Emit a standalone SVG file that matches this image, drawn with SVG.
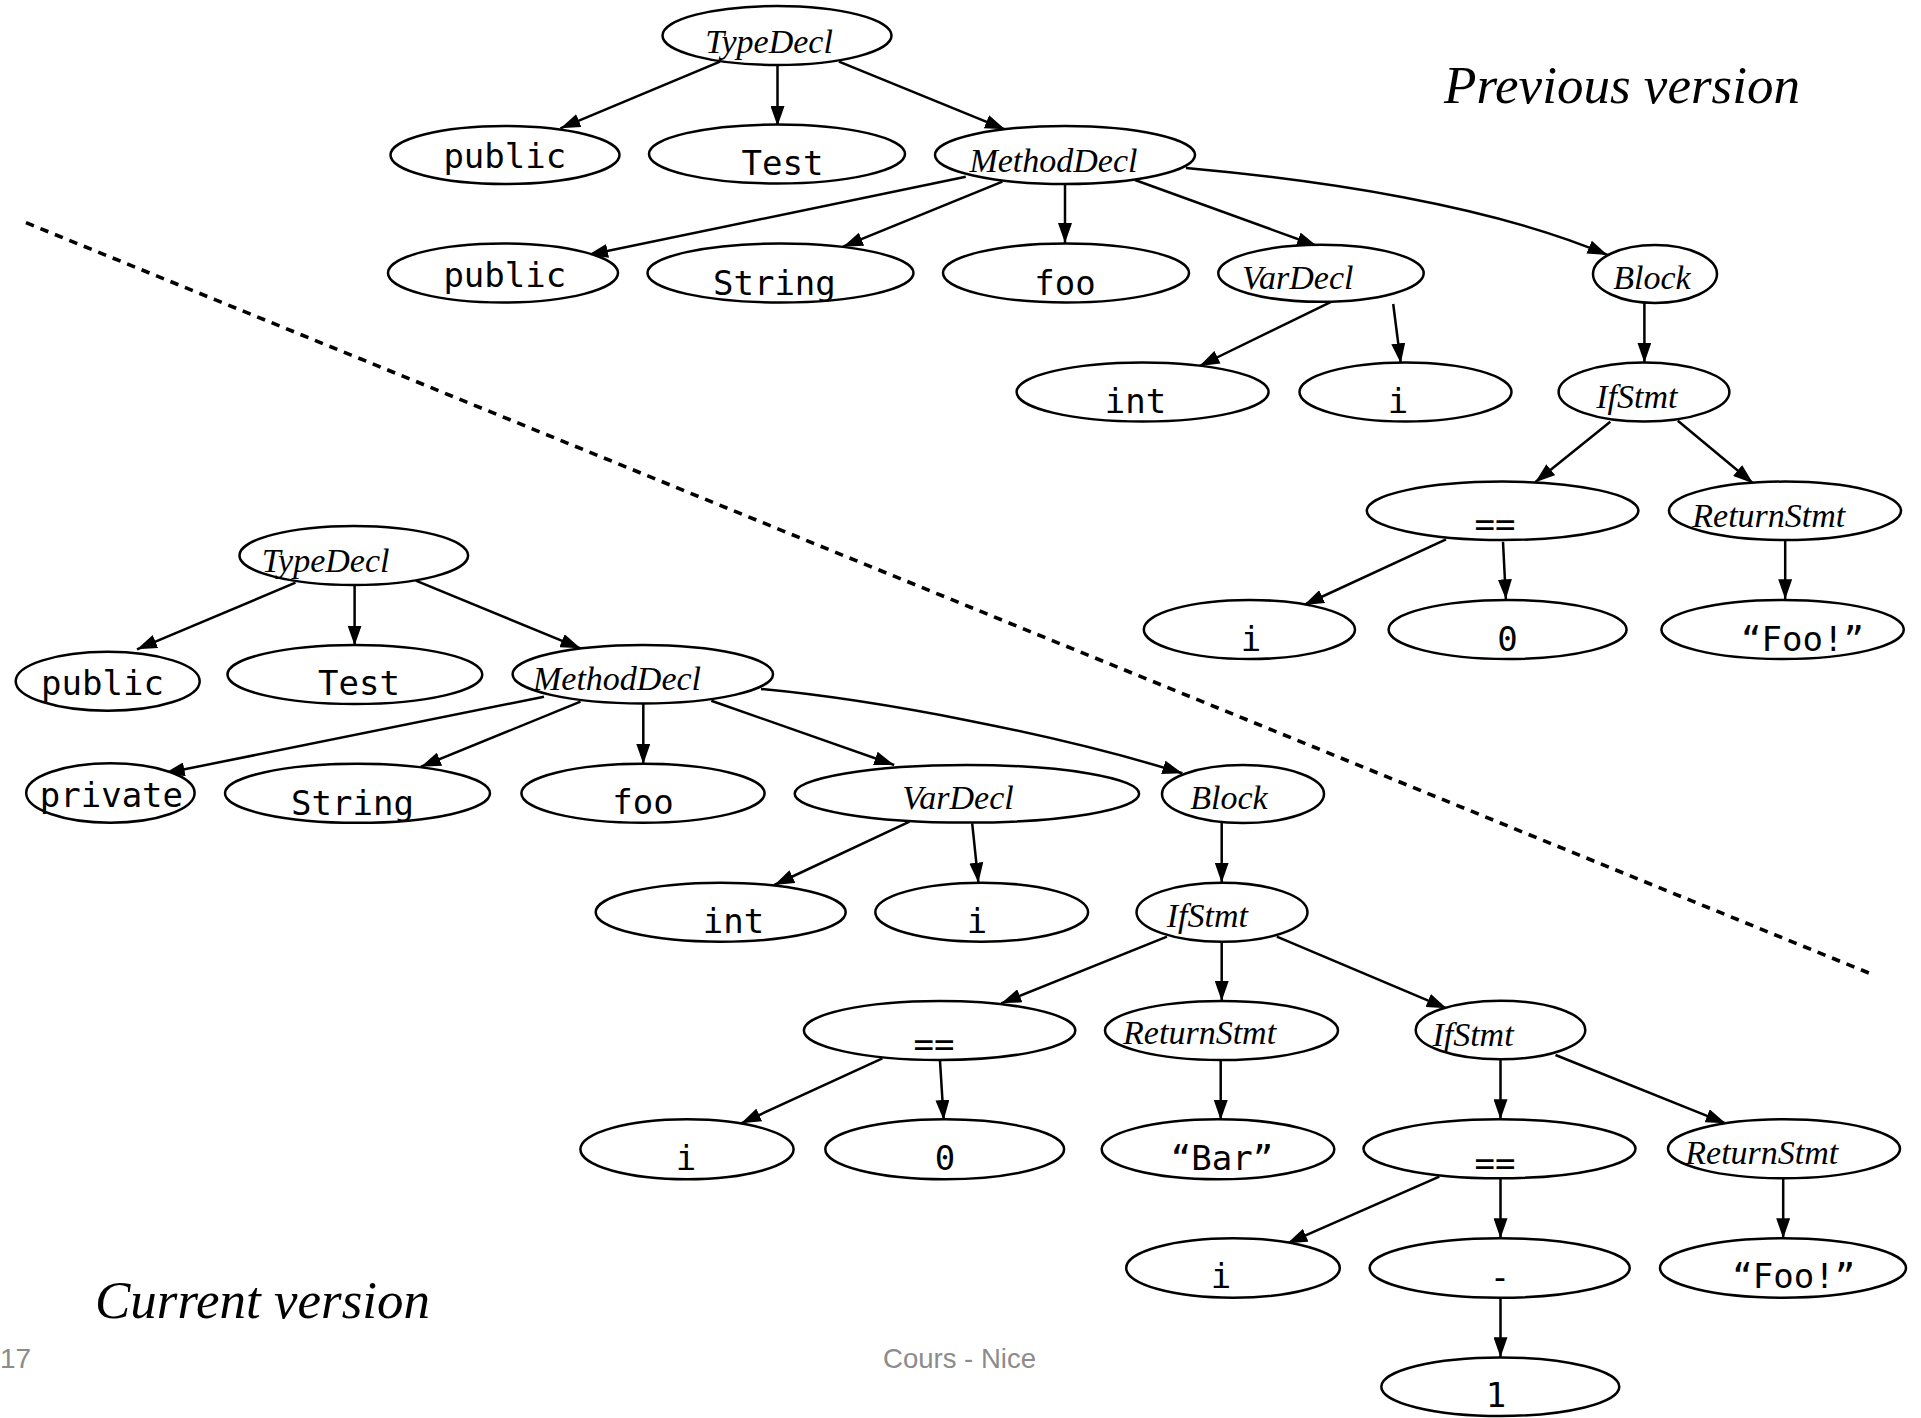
<svg xmlns="http://www.w3.org/2000/svg" width="1921" height="1418" viewBox="0 0 1921 1418">
  <style>
    .node ellipse { fill: #ffffff; stroke: #000000; stroke-width: 2.5; }
    .it { font-family: "Liberation Serif", "Times New Roman", serif; font-style: italic; font-size: 34px; fill: #000000; text-anchor: middle; }
    .mono { font-family: "DejaVu Sans Mono", "Liberation Mono", monospace; font-size: 34px; fill: #000000; text-anchor: middle; }
    .edge { fill: none; stroke: #000000; stroke-width: 2.5; marker-end: url(#arrow); }
    .caption { font-family: "Liberation Serif", "Times New Roman", serif; font-style: italic; font-size: 53px; fill: #000000; }
    .footer { font-family: "Liberation Sans", Arial, sans-serif; font-size: 28px; fill: #8c8c8c; }
    .divider { fill: none; stroke: #000000; stroke-width: 3.6; stroke-dasharray: 8.5 7.1; }
  </style>
  <defs>
    <marker id="arrow" markerUnits="userSpaceOnUse" markerWidth="20" markerHeight="14" refX="20" refY="7" orient="auto">
      <path d="M0,0 L20,7 L0,14 Z" fill="#000000"/>
    </marker>
  </defs>

  <rect x="0" y="0" width="1921" height="1418" fill="#ffffff"/>

  <!-- separator between the two versions -->
  <line class="divider" x1="26" y1="222.7" x2="1869.6" y2="973.3"/>

  <!-- captions and footer -->
  <text class="caption" x="1444" y="103.3" textLength="356" lengthAdjust="spacingAndGlyphs">Previous version</text>
  <text class="caption" x="95" y="1318.3" textLength="335" lengthAdjust="spacingAndGlyphs">Current version</text>
  <text class="footer" x="0" y="1368.3">17</text>
  <text class="footer" x="883" y="1368.3" textLength="153" lengthAdjust="spacingAndGlyphs">Cours - Nice</text>

  <!-- edges -->
  <g id="connectors">
    <!-- previous version -->
    <line class="edge" x1="720" y1="61.7" x2="560.4" y2="128.3"/>
    <line class="edge" x1="777.5" y1="65" x2="777.5" y2="126"/>
    <line class="edge" x1="839" y1="61.7" x2="1005" y2="129.3"/>
    <line class="edge" x1="965.8" y1="176.7" x2="588" y2="255"/>
    <line class="edge" x1="1002.4" y1="181.7" x2="843" y2="246.7"/>
    <line class="edge" x1="1065" y1="184" x2="1065" y2="243"/>
    <line class="edge" x1="1135" y1="180" x2="1317" y2="246"/>
    <path class="edge" d="M1186,168 C1320,180 1490,205 1607.5,255"/>
    <line class="edge" x1="1331.6" y1="301.7" x2="1199.5" y2="366"/>
    <line class="edge" x1="1393.2" y1="304" x2="1400.8" y2="363.3"/>
    <line class="edge" x1="1644.4" y1="302.7" x2="1644.4" y2="362.7"/>
    <line class="edge" x1="1610.3" y1="421.7" x2="1535.2" y2="482.3"/>
    <line class="edge" x1="1677.8" y1="420.7" x2="1753" y2="483.3"/>
    <line class="edge" x1="1446" y1="539.3" x2="1304" y2="605"/>
    <line class="edge" x1="1503" y1="541.7" x2="1505.9" y2="599.3"/>
    <line class="edge" x1="1785.2" y1="540" x2="1785.2" y2="599.3"/>
    <!-- current version -->
    <line class="edge" x1="295.5" y1="582.7" x2="137" y2="649.3"/>
    <line class="edge" x1="354.6" y1="585" x2="354.6" y2="645.5"/>
    <line class="edge" x1="415.8" y1="580.7" x2="580.5" y2="648.3"/>
    <line class="edge" x1="544" y1="696.7" x2="164.7" y2="773.3"/>
    <line class="edge" x1="580.5" y1="701.7" x2="421" y2="766.7"/>
    <line class="edge" x1="643.3" y1="703.3" x2="643.3" y2="764"/>
    <line class="edge" x1="711.3" y1="700.7" x2="894.2" y2="765"/>
    <path class="edge" d="M761,689 C880,700 1060,735 1182.4,773.3"/>
    <line class="edge" x1="909.5" y1="821.7" x2="774.3" y2="885"/>
    <line class="edge" x1="972.2" y1="823.3" x2="978.4" y2="882.7"/>
    <line class="edge" x1="1221.7" y1="822.7" x2="1221.7" y2="882.7"/>
    <line class="edge" x1="1167" y1="936.7" x2="1001.3" y2="1003.3"/>
    <line class="edge" x1="1221.7" y1="941.7" x2="1221.7" y2="1001"/>
    <line class="edge" x1="1276.8" y1="936.7" x2="1446.6" y2="1008.3"/>
    <line class="edge" x1="882.4" y1="1058.3" x2="741.1" y2="1123.3"/>
    <line class="edge" x1="940" y1="1060.7" x2="943.7" y2="1120"/>
    <line class="edge" x1="1220.7" y1="1060" x2="1220.7" y2="1120"/>
    <line class="edge" x1="1500.5" y1="1059.3" x2="1500.5" y2="1119.3"/>
    <line class="edge" x1="1555.5" y1="1055" x2="1725.7" y2="1123.3"/>
    <line class="edge" x1="1439.3" y1="1176.7" x2="1287.4" y2="1243.3"/>
    <line class="edge" x1="1500.5" y1="1178.3" x2="1500.5" y2="1238.3"/>
    <line class="edge" x1="1783.2" y1="1178.3" x2="1783.2" y2="1238.3"/>
    <line class="edge" x1="1500.5" y1="1297.7" x2="1500.5" y2="1357.3"/>
  </g>

  <!-- previous version nodes -->
  <g id="p-typedecl" class="node"><ellipse cx="777" cy="35.5" rx="114.5" ry="29.5"/><text class="it" x="769" y="53.3">TypeDecl</text></g>
  <g id="p-public" class="node"><ellipse cx="505" cy="155" rx="114.5" ry="29"/><text class="mono" x="504.8" y="168.3">public</text></g>
  <g id="p-test" class="node"><ellipse cx="777" cy="154" rx="128" ry="29.5"/><text class="mono" x="782.5" y="175">Test</text></g>
  <g id="p-methoddecl" class="node"><ellipse cx="1065" cy="155" rx="130" ry="29"/><text class="it" x="1053.4" y="171.7">MethodDecl</text></g>
  <g id="p-modifier" class="node"><ellipse cx="503" cy="273" rx="115" ry="29.5"/><text class="mono" x="504.8" y="286.7">public</text></g>
  <g id="p-string" class="node"><ellipse cx="780.5" cy="273" rx="133" ry="29.5"/><text class="mono" x="774.4" y="295">String</text></g>
  <g id="p-foo" class="node"><ellipse cx="1066" cy="273" rx="123" ry="29.5"/><text class="mono" x="1065" y="295">foo</text></g>
  <g id="p-vardecl" class="node"><ellipse cx="1321" cy="273.3" rx="102.7" ry="28.5"/><text class="it" x="1297.8" y="289.3">VarDecl</text></g>
  <g id="p-block" class="node"><ellipse cx="1655" cy="274" rx="62" ry="29"/><text class="it" x="1652" y="289">Block</text></g>
  <g id="p-int" class="node"><ellipse cx="1142.6" cy="392" rx="126" ry="29.5"/><text class="mono" x="1135.5" y="412.7">int</text></g>
  <g id="p-var-i" class="node"><ellipse cx="1405.5" cy="392" rx="106" ry="29.5"/><text class="mono" x="1398" y="412.7">i</text></g>
  <g id="p-ifstmt" class="node"><ellipse cx="1644" cy="392" rx="85.4" ry="29.5"/><text class="it" x="1636.8" y="408.3">IfStmt</text></g>
  <g id="p-eq" class="node"><ellipse cx="1502.6" cy="510.8" rx="135.8" ry="29.2"/><text class="mono" x="1495" y="536">==</text></g>
  <g id="p-return" class="node"><ellipse cx="1785" cy="510.8" rx="116" ry="29.2"/><text class="it" x="1768.8" y="526.7">ReturnStmt</text></g>
  <g id="p-eq-i" class="node"><ellipse cx="1249.4" cy="629.5" rx="105.6" ry="29.5"/><text class="mono" x="1251" y="650.7">i</text></g>
  <g id="p-eq-0" class="node"><ellipse cx="1507.6" cy="629.5" rx="119" ry="29.5"/><text class="mono" x="1507.6" y="650.7">0</text></g>
  <g id="p-foo-str" class="node"><ellipse cx="1782.6" cy="629.5" rx="121.2" ry="29.5"/><text class="mono" x="1802.5" y="650.7">“Foo!”</text></g>

  <!-- current version nodes -->
  <g id="c-typedecl" class="node"><ellipse cx="353.8" cy="555.5" rx="114.3" ry="29.5"/><text class="it" x="325.6" y="571.7">TypeDecl</text></g>
  <g id="c-public" class="node"><ellipse cx="107.7" cy="681.2" rx="92" ry="29.5"/><text class="mono" x="102.5" y="695">public</text></g>
  <g id="c-test" class="node"><ellipse cx="354.9" cy="674.5" rx="127.4" ry="29.5"/><text class="mono" x="359" y="695">Test</text></g>
  <g id="c-methoddecl" class="node"><ellipse cx="642.8" cy="674.2" rx="130.2" ry="29.2"/><text class="it" x="617" y="690">MethodDecl</text></g>
  <g id="c-private" class="node"><ellipse cx="110.4" cy="793" rx="84.2" ry="29.7"/><text class="mono" x="111.4" y="806.7">private</text></g>
  <g id="c-string" class="node"><ellipse cx="357.5" cy="793.3" rx="132.5" ry="29.5"/><text class="mono" x="352.5" y="815">String</text></g>
  <g id="c-foo" class="node"><ellipse cx="643" cy="793.3" rx="121.6" ry="29.5"/><text class="mono" x="643" y="814">foo</text></g>
  <g id="c-vardecl" class="node"><ellipse cx="966.9" cy="793.8" rx="172.2" ry="28.8"/><text class="it" x="958" y="809.3">VarDecl</text></g>
  <g id="c-block" class="node"><ellipse cx="1243" cy="794" rx="81" ry="29"/><text class="it" x="1229" y="809.3">Block</text></g>
  <g id="c-int" class="node"><ellipse cx="720.7" cy="912.2" rx="125" ry="29.5"/><text class="mono" x="733.5" y="933.3">int</text></g>
  <g id="c-var-i" class="node"><ellipse cx="981.7" cy="912.2" rx="106.4" ry="29.5"/><text class="mono" x="977" y="933.3">i</text></g>
  <g id="c-ifstmt" class="node"><ellipse cx="1222" cy="912.2" rx="85.5" ry="29.5"/><text class="it" x="1207.4" y="926.7">IfStmt</text></g>
  <g id="c-eq" class="node"><ellipse cx="939.6" cy="1030.5" rx="135.7" ry="29.5"/><text class="mono" x="934" y="1056">==</text></g>
  <g id="c-return-bar" class="node"><ellipse cx="1221.5" cy="1030.5" rx="116.5" ry="29.5"/><text class="it" x="1199.6" y="1044">ReturnStmt</text></g>
  <g id="c-ifstmt2" class="node"><ellipse cx="1500.5" cy="1030" rx="84.8" ry="29.3"/><text class="it" x="1473" y="1046">IfStmt</text></g>
  <g id="c-eq-i" class="node"><ellipse cx="687" cy="1149.3" rx="106.6" ry="30"/><text class="mono" x="686" y="1170">i</text></g>
  <g id="c-eq-0" class="node"><ellipse cx="944.7" cy="1149.3" rx="119.4" ry="30"/><text class="mono" x="945" y="1170">0</text></g>
  <g id="c-bar" class="node"><ellipse cx="1218" cy="1149.3" rx="116.3" ry="30"/><text class="mono" x="1222" y="1170">“Bar”</text></g>
  <g id="c-eq2" class="node"><ellipse cx="1499.5" cy="1148.8" rx="136" ry="29.5"/><text class="mono" x="1495" y="1175">==</text></g>
  <g id="c-return-foo" class="node"><ellipse cx="1784" cy="1148.8" rx="116" ry="29.5"/><text class="it" x="1761.8" y="1164">ReturnStmt</text></g>
  <g id="c-eq2-i" class="node"><ellipse cx="1233" cy="1268" rx="106.8" ry="29.7"/><text class="mono" x="1221" y="1288.3">i</text></g>
  <g id="c-minus" class="node"><ellipse cx="1499.7" cy="1268" rx="130" ry="29.7"/><text class="mono" x="1500" y="1289">-</text></g>
  <g id="c-foo-str" class="node"><ellipse cx="1783" cy="1268" rx="123" ry="29.7"/><text class="mono" x="1793.7" y="1288.3">“Foo!”</text></g>
  <g id="c-one" class="node"><ellipse cx="1500.3" cy="1386.7" rx="119" ry="29.3"/><text class="mono" x="1496" y="1406.7">1</text></g>
</svg>
